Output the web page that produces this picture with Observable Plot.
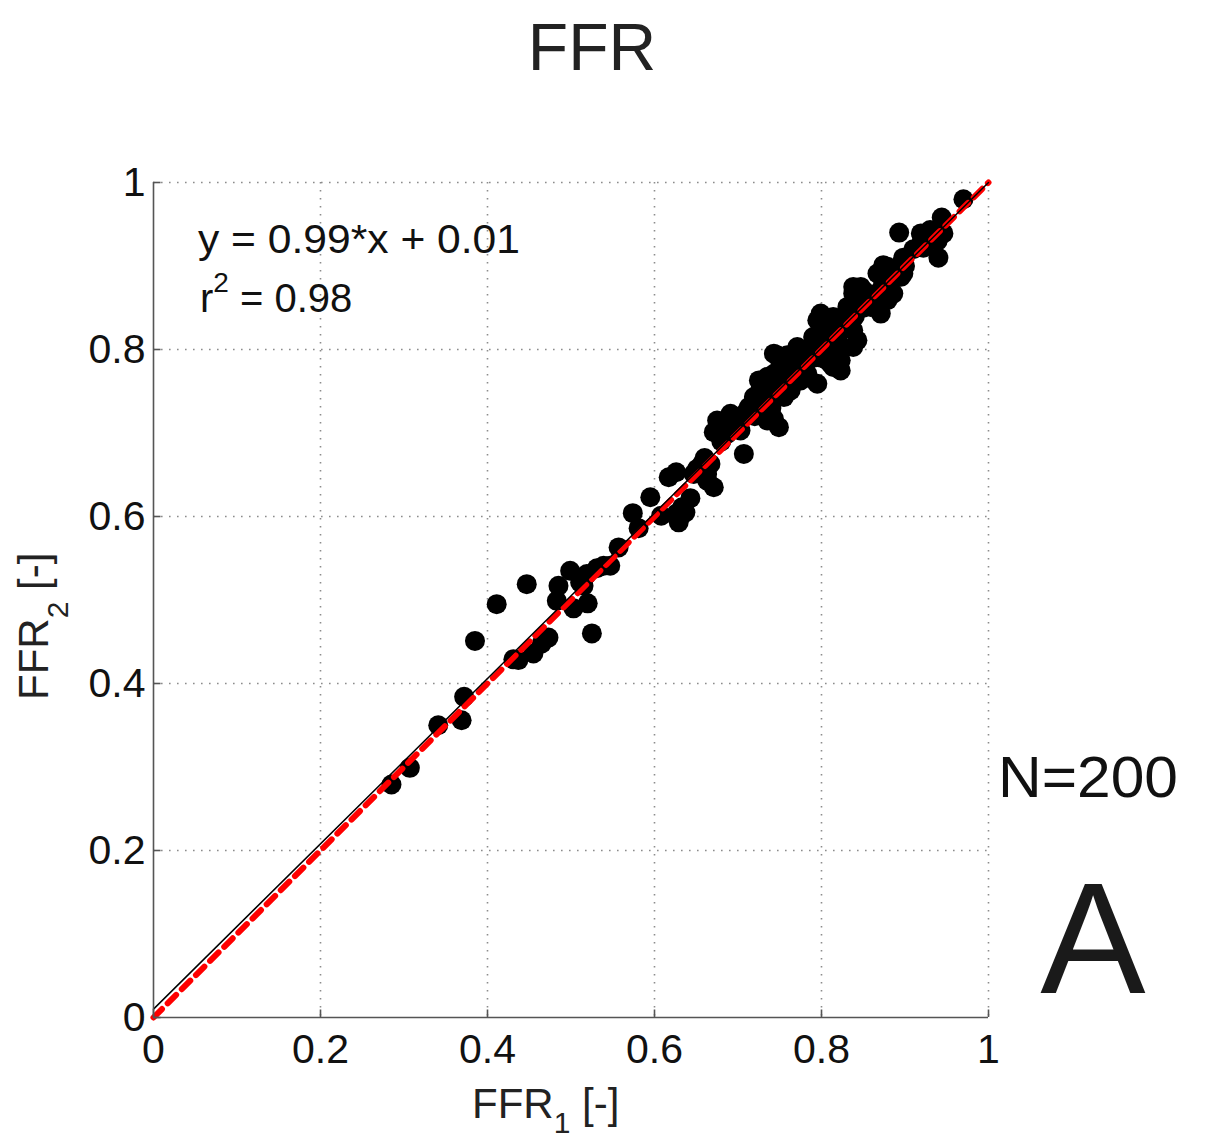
<!DOCTYPE html>
<html><head><meta charset="utf-8">
<script src="https://cdn.jsdelivr.net/npm/d3@7"></script>
<script src="https://cdn.jsdelivr.net/npm/@observablehq/plot@0.6"></script>
<style>body{margin:0;background:#fff;} #chart svg{display:block;}</style>
</head><body><div id="chart"></div>
<script>
// [FFR1, FFR2] pairs
const measurements = [
[0.285,0.279],[0.307,0.299],[0.341,0.350],[0.369,0.356],[0.372,0.384],
[0.385,0.451],[0.411,0.495],[0.447,0.519],
[0.431,0.429],[0.437,0.428],[0.455,0.436],[0.465,0.448],[0.473,0.455],
[0.485,0.517],[0.483,0.499],[0.499,0.535],[0.511,0.521],[0.519,0.531],[0.503,0.490],[0.520,0.496],[0.525,0.460],[0.531,0.538],[0.515,0.517],
[0.539,0.541],[0.547,0.541],[0.557,0.563],[0.574,0.604],[0.581,0.586],[0.595,0.623],[0.608,0.601],[0.617,0.647],[0.626,0.653],[0.629,0.598],[0.637,0.605],[0.643,0.622],[0.627,0.604],[0.633,0.611],[0.629,0.593],
[0.651,0.657],[0.657,0.663],[0.671,0.635],[0.663,0.643],[0.675,0.715],[0.671,0.701],[0.693,0.721],[0.707,0.675],[0.711,0.727],[0.689,0.709],[0.697,0.705],[0.667,0.663],[0.662,0.654],[0.647,0.651],[0.663,0.651],
[0.691,0.723],[0.687,0.699],[0.703,0.703],[0.735,0.715],[0.749,0.707],[0.743,0.717],[0.727,0.727],[0.713,0.731],[0.719,0.743],[0.727,0.753],[0.725,0.763],[0.739,0.755],[0.743,0.771],[0.751,0.783],[0.747,0.793],[0.759,0.793],[0.771,0.779],[0.771,0.763],[0.763,0.751],[0.755,0.743],[0.783,0.767],[0.778,0.791],[0.790,0.803],[0.802,0.799],[0.814,0.779],[0.807,0.787],[0.795,0.815],
[0.735,0.767],[0.743,0.795],[0.767,0.791],[0.771,0.803],[0.786,0.791],[0.790,0.815],[0.795,0.835],[0.799,0.843],[0.807,0.831],[0.819,0.819],[0.823,0.803],[0.823,0.775],[0.838,0.803],[0.843,0.811],[0.838,0.823],[0.831,0.847],[0.843,0.859],[0.838,0.875],[0.850,0.871],[0.859,0.851],[0.871,0.843],[0.879,0.859],[0.886,0.867],[0.874,0.879],[0.895,0.887],[0.867,0.891],[0.823,0.787],[0.811,0.783],[0.783,0.771],[0.775,0.763],[0.795,0.759],
[0.970,0.980],[0.893,0.940],[0.944,0.958],[0.930,0.943],[0.919,0.939],[0.946,0.939],[0.939,0.930],[0.922,0.922],[0.940,0.910],[0.898,0.910],[0.895,0.902],[0.879,0.899],[0.871,0.891],[0.898,0.891],[0.847,0.875],[0.838,0.867],[0.855,0.867],[0.879,0.867],[0.871,0.855],[0.831,0.851],[0.814,0.839],[0.874,0.901],[0.897,0.895],
[0.79,0.80],[0.80,0.81],[0.81,0.82],[0.76,0.77],[0.78,0.78],[0.82,0.83],[0.86,0.86],[0.85,0.85],[0.88,0.88],[0.90,0.90],[0.91,0.92],[0.73,0.74],[0.70,0.71],[0.68,0.69],[0.66,0.67],[0.92,0.93],[0.75,0.75],[0.77,0.78],[0.83,0.83],[0.84,0.84],[0.87,0.87],[0.72,0.72],[0.74,0.73],[0.81,0.80],[0.79,0.79],[0.76,0.76],[0.85,0.86],[0.80,0.79],[0.82,0.81],[0.78,0.77]
];
const identityLine = [[0,0],[1,1]];          // red dashed y = x
const fitLine = [[0,0.01],[1,1.0]];          // black regression y = 0.99x + 0.01
const xTicks = [0,0.2,0.4,0.6,0.8,1];
const yTicks = [0,0.2,0.4,0.6,0.8,1];
const xTickLabels = ["0","0.2","0.4","0.6","0.8","1"];
const yTickLabels = ["0","0.2","0.4","0.6","0.8","1"];
const titleText = "FFR";
const eqText = "y = 0.99*x + 0.01";
const r2Value = "0.98";
const nText = "N=200";
const panelText = "A";

const font = "'Liberation Sans', Arial, Helvetica, sans-serif";
const axisColor = "#555";
const gridColor = "#8c8c8c";

const chart = Plot.plot({
  width: 1226, height: 1142,
  marginLeft: 153, marginRight: 238, marginTop: 182, marginBottom: 125,
  style: {fontFamily: font, fontSize: "41px", color: "#111", background: "#fff", overflow: "visible"},
  x: {domain: [0, 1], label: null},
  y: {domain: [0, 1], label: null},
  marks: [
    Plot.ruleX(xTicks.filter(d => d > 0), {stroke: gridColor, strokeWidth: 1.6, strokeDasharray: "1.6,6.4"}),
    Plot.ruleY(yTicks.filter(d => d > 0), {stroke: gridColor, strokeWidth: 1.6, strokeDasharray: "1.6,6.4"}),
    Plot.dot(measurements, {x: d => d[0], y: d => d[1], r: 10, fill: "#000", stroke: "none"}),
    Plot.line(identityLine, {x: d => d[0], y: d => d[1], stroke: "#ff0000", strokeWidth: 6, strokeDasharray: "12,8"}),
    Plot.line(fitLine, {x: d => d[0], y: d => d[1], stroke: "#000", strokeWidth: 1.5}),
    Plot.ruleX([0], {stroke: axisColor, strokeWidth: 1.6}),
    Plot.ruleY([0], {stroke: axisColor, strokeWidth: 1.6}),
    Plot.ruleX(xTicks, {y1: 0, y2: 0.009, stroke: axisColor, strokeWidth: 1.6}),
    Plot.ruleY(yTicks, {x1: 0, x2: 0.009, stroke: axisColor, strokeWidth: 1.6}),
    Plot.axisX({ticks: xTicks, tickSize: 0, tickPadding: 16, label: null, tickFormat: (d, i) => xTickLabels[i]}),
    Plot.axisY({ticks: yTicks, tickSize: 0, tickPadding: 8, label: null, tickFormat: (d, i) => yTickLabels[i]})
  ]
});
document.getElementById("chart").appendChild(chart);

const svg = d3.select(chart);
const txtColor = "#111";
const add = () => svg.append("text").attr("font-family", font).attr("text-anchor", "start");
// title
add().attr("x", 592).attr("y", 70).attr("text-anchor", "middle")
  .attr("font-size", 66).attr("fill", "#222").text(titleText);
// equation
add().attr("x", 198).attr("y", 253).attr("font-size", 40)
  .attr("fill", txtColor).attr("textLength", 322).attr("lengthAdjust", "spacingAndGlyphs").text(eqText);
const r2 = add().attr("x", 200).attr("y", 312).attr("font-size", 40).attr("fill", txtColor);
r2.append("tspan").text("r");
r2.append("tspan").attr("font-size", 28).attr("dy", -20).text("2");
r2.append("tspan").attr("dy", 20).text(" = " + r2Value);
// N and panel letter
add().attr("x", 998).attr("y", 797).attr("font-size", 58)
  .attr("fill", txtColor).attr("textLength", 180).attr("lengthAdjust", "spacingAndGlyphs").text(nText);
add().attr("x", 1093).attr("y", 993).attr("text-anchor", "middle")
  .attr("font-size", 158).attr("fill", "#1a1a1a").text(panelText);
// x label FFR_1 [-]
const xl = add().attr("x", 472).attr("y", 1118).attr("font-size", 42).attr("fill", "#222");
xl.append("tspan").text("FFR");
xl.append("tspan").attr("font-size", 30).attr("dy", 15).text("1");
xl.append("tspan").attr("dy", -15).text(" [-]");
// y label FFR_2 [-]
const yl = add().attr("transform", "translate(48,700) rotate(-90)").attr("font-size", 42).attr("fill", "#222");
yl.append("tspan").text("FFR");
yl.append("tspan").attr("font-size", 30).attr("dy", 20).text("2");
yl.append("tspan").attr("dy", -20).text(" [-]");
</script>
</body></html>
